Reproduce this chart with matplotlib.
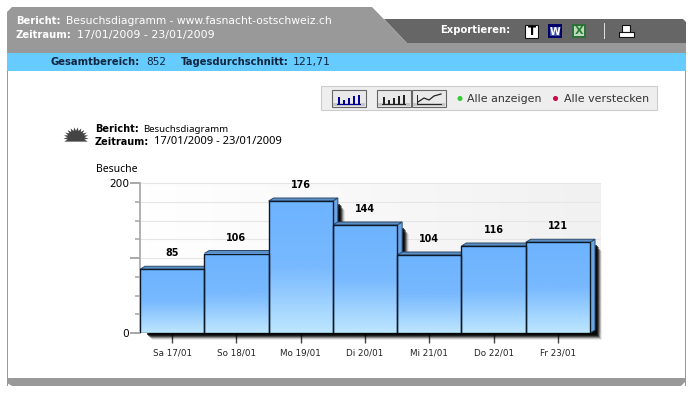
import matplotlib
matplotlib.use("Agg")
import matplotlib.pyplot as plt
from matplotlib.colors import LinearSegmentedColormap
from matplotlib.patches import Circle, Polygon, Rectangle
import numpy as np

# chart values
days = ["Sa 17/01", "So 18/01", "Mo 19/01", "Di 20/01", "Mi 21/01", "Do 22/01", "Fr 23/01"]
visits = [85, 106, 176, 144, 104, 116, 121]
y_labels = ["0", "", "200"]
y_major = [0, 100, 200]
y_minor = [25, 50, 75, 125, 150, 175]
grid_levels = [25, 50, 75, 100, 125, 150, 175, 200]

plt.rcParams["font.family"] = ["DejaVu Sans"]

W, H = 694, 393
fig = plt.figure(figsize=(W / 100, H / 100), dpi=100, facecolor="white")

# page furniture, in pixel coordinates
bg = fig.add_axes([0, 0, 1, 1])
bg.set_xlim(0, W)
bg.set_ylim(H, 0)
bg.axis("off")


def box(x0, y0, x1, y1, color, edge="none", z=1):
    bg.add_patch(Rectangle((x0, y0), x1 - x0, y1 - y0, fc=color, ec=edge, lw=0.8, zorder=z))


def label(x, y, s, size=7.2, color="black", weight="normal", ha="left", family="DejaVu Sans"):
    bg.text(x, y, s, fontsize=size, color=color, fontweight=weight, ha=ha, va="center", zorder=5, family=family)


bg.add_patch(Polygon([(7, 12), (12, 7), (372, 7), (407, 43), (686, 43), (686, 53), (7, 53)], fc="#999999", ec="none"))
bg.add_patch(Polygon([(384, 19), (683, 19), (686, 22), (686, 43), (407, 43)], fc="#666666", ec="none"))
box(7, 53, 686, 71, "#66ccff")
box(7, 71, 8, 386, "#999999")
box(685, 71, 686, 386, "#999999")
bg.add_patch(Polygon([(7, 378), (686, 378), (686, 381), (681, 386), (12, 386), (7, 383)], fc="#999999", ec="none"))

label(16, 21, "Bericht:", color="white", weight="bold")
label(66, 21, "Besuchsdiagramm - www.fasnacht-ostschweiz.ch", size=7.75, color="white")
label(16, 35, "Zeitraum:", color="white", weight="bold")
label(77, 35, "17/01/2009 - 23/01/2009", size=7.9, color="white")

label(51, 62, "Gesamtbereich:", color="#10253f", weight="bold")
label(146, 62, "852", size=7.6, color="#10253f")
label(181, 62, "Tagesdurchschnitt:", color="#10253f", weight="bold")
label(293, 62, "121,71", size=7.8, color="#10253f")

# export icons
label(440, 30, "Exportieren:", color="white", weight="bold")
box(525, 25, 538, 38, "white", edge="#111111", z=2)
label(531.5, 31.5, "T", size=8.5, weight="bold", ha="center")
box(548, 24, 562, 38, "#000066", z=2)
box(550, 27, 560, 36, "#3a4fb0", z=2)
label(555, 32, "W", size=7, color="white", weight="bold", ha="center")
box(572, 24, 586, 38, "#2f6f3a", z=2)
box(574, 26, 584, 36, "#bcdcc0", z=2)
label(579, 31, "X", size=8, color="#2f7d32", weight="bold", ha="center")
box(604, 23, 605, 39, "#dddddd")
box(622, 25, 630, 32, "white", edge="#111111", z=2)
box(619, 32, 634, 37, "white", edge="#111111", z=3)

# view switcher
box(321, 86, 657, 110, "#eeeeee", edge="#cccccc")
for x0, bar_color in [(332, "#000099"), (377, "#222222")]:
    box(x0, 90, x0 + 34, 107, "#e9e9e9", edge="#666666", z=2)
    box(x0 + 1, 103, x0 + 33, 106, "#c4c4c4", z=2)
    box(x0 + 5, 104, x0 + 29, 105, bar_color, z=3)
    for j, h in enumerate([7, 4, 6, 8, 9]):
        box(x0 + 6 + j * 5, 104 - h, x0 + 8.5 + j * 5, 104, bar_color, z=3)
box(412, 90, 446, 107, "#e9e9e9", edge="#666666", z=2)
box(413, 103, 445, 106, "#c4c4c4", z=2)
bg.plot([417, 417, 441], [95, 104, 104], color="#222222", lw=0.7, zorder=3)
bg.plot([418, 424, 429, 434, 441], [102, 98, 100, 96, 94], color="#222222", lw=0.9, zorder=3)
bg.add_patch(Circle((460, 98.5), 2.5, fc="#33cc33", ec="none", zorder=3))
bg.add_patch(Circle((555.5, 98.5), 2.5, fc="#cc0044", ec="none", zorder=3))
label(467, 98.5, "Alle anzeigen", size=7.9, color="#333333")
label(564, 98.5, "Alle verstecken", size=7.9, color="#333333")

# report heading with the half sun mark
angles = np.linspace(np.pi + 0.35, -0.35, 27)
radii = np.where(np.arange(27) % 2 == 0, 12.5, 8.5)
sun_x = 76 + radii * np.cos(angles)
sun_y = np.minimum(138 - radii * np.sin(angles) * 0.85, 144)
bg.add_patch(Polygon(np.column_stack([sun_x, sun_y]), fc="#444444", ec="none"))
label(95, 129.5, "Bericht:", size=7, weight="bold")
label(143, 129.5, "Besuchsdiagramm", size=6.95, family="Noto Sans")
label(95, 142, "Zeitraum:", size=7, weight="bold")
label(154.5, 142, "17/01/2009 - 23/01/2009", size=8.05, family="Noto Sans")
label(96, 169.5, "Besuche", size=7.5, family="Noto Sans")

# the chart itself
ax = fig.add_axes([140 / W, (H - 333) / H, (601 - 140) / W, 150 / H])
ax.patch.set_alpha(0)
x_lo, x_hi = -0.5, 6.5 + 11 / 64.3
plot_bg = LinearSegmentedColormap.from_list("plot_bg", ["#ffffff", "#f1f1f1"])
ax.imshow(np.linspace(0, 1, 64).reshape(1, -1), cmap=plot_bg, extent=(x_lo, x_hi, 0, 200), aspect="auto", zorder=0)
bar_fill = LinearSegmentedColormap.from_list("bar_fill", ["#6db3fe", "#78b9fe", "#bde6ff"])
gradient = np.linspace(0, 1, 64).reshape(-1, 1)

px_x = 1 / 64.3   # one pixel in data units
px_y = 200 / 150
dx = 5 * px_x     # depth of the 3d look
dy = 3 * px_y

for y in grid_levels:
    ax.axhline(y, color="#e6e6e6", lw=0.8, zorder=1)

xs = np.arange(len(visits))
values = np.array(visits)

# blurred drop shadow, widest and faintest first
for s, a in [(7, 0.08), (6, 0.16), (5, 0.3), (4, 0.45), (3, 0.6), (2, 0.7)]:
    ax.bar(xs + dx + s * px_x, values + s * px_y - 1.3 * s * px_y, width=1.0, bottom=-s * px_y,
           color="black", alpha=a, linewidth=0, zorder=2, clip_on=False)

for x, v in zip(xs, values):
    left, right = x - 0.5, x + 0.5
    ax.add_patch(Polygon([(right, 0), (right + dx, dy), (right + dx, v + dy), (right, v)],
                         fc="#6aa6e6", ec="#2c4a6c", lw=0.7, zorder=3))
    ax.add_patch(Polygon([(left, v), (left + dx, v + dy), (right + dx, v + dy), (right, v)],
                         fc="#5c8fc6", ec="#2c4a6c", lw=0.7, zorder=3))

for x, v in zip(xs, values):
    ax.imshow(gradient, cmap=bar_fill, extent=(x - 0.5, x + 0.5, 0, v), aspect="auto", zorder=4)
    ax.add_patch(Rectangle((x - 0.5, 0), 1, v, fc="none", ec="#0c1a28", lw=1.0, zorder=5))
    ax.text(x, v + 21.3, str(v), ha="center", va="center", fontsize=6.9, fontweight="bold", zorder=6)

ax.set_xlim(x_lo, x_hi)
ax.set_ylim(0, 200)
ax.set_xticks(xs, days, fontsize=6.3, color="#222222")
ax.set_yticks(y_major, y_labels, fontsize=7.6)
ax.set_yticks(y_minor, minor=True)
ax.tick_params(axis="x", length=7.5, width=1, color="#444444", pad=3.5)
ax.tick_params(axis="y", which="major", length=7, width=1.2, color="#999999", pad=1)
ax.tick_params(axis="y", which="minor", length=3.5, width=1.2, color="#aaaaaa")
for side in ["top", "right", "bottom"]:
    ax.spines[side].set_visible(False)
ax.spines["left"].set_color("#aaaaaa")
ax.spines["left"].set_linewidth(1.3)

fig.savefig("out.png", dpi=100)
